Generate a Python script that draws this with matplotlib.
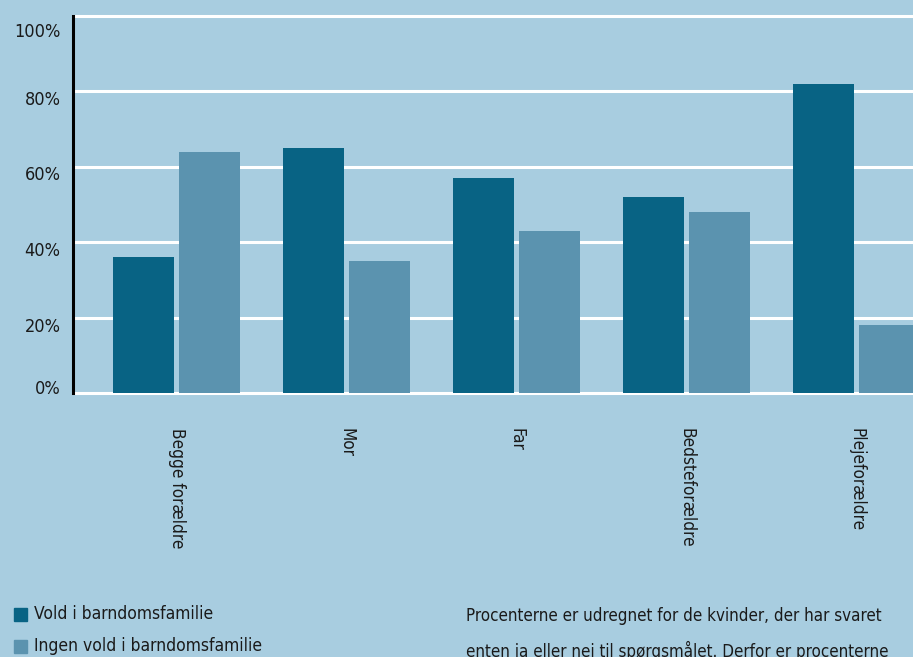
import matplotlib
matplotlib.use('Agg')
import matplotlib.pyplot as plt
import matplotlib.transforms as mtransforms
import numpy as np
from matplotlib.patches import Rectangle

plt.rcParams['font.family'] = ['DejaVu Sans']
plt.rcParams['font.stretch'] = 'condensed'

categories = ['Begge forældre', 'Mor', 'Far', 'Bedsteforældre', 'Plejeforældre']
vold = [36, 65, 57, 52, 82]
ingen_vold = [64, 35, 43, 48, 18]
yticks = [0, 20, 40, 60, 80, 100]
ytick_labels = ['0%', '20%', '40%', '60%', '80%', '100%']
legend_labels = ['Vold i barndomsfamilie', 'Ingen vold i barndomsfamilie']
note_lines = ['Procenterne er udregnet for de kvinder, der har svaret',
              'enten ja eller nej til spørgsmålet. Derfor er procenterne']

bg = '#a8cde0'
dark = '#086384'
light = '#5b93af'
txt = '#1a1a1a'

fig = plt.figure(figsize=(9.13, 6.57), dpi=100, facecolor=bg)
ax = fig.add_axes([73 / 913, 1 - 393 / 657, 1 - 73 / 913, (393 - 16) / 657])
ax.set_facecolor(bg)

x = np.arange(len(categories))
w = 61 / 170
off = 33 / 170
ax.bar(x - off, vold, width=w, color=dark, zorder=3)
ax.bar(x + off, ingen_vold, width=w, color=light, zorder=3)

ax.set_xlim(-0.609, 4.332)
ax.set_ylim(0, 100)
for v in yticks:
    ax.axhline(v, color='white', lw=2.2, zorder=1, clip_on=False)

for s in ['top', 'right', 'bottom']:
    ax.spines[s].set_visible(False)
ax.spines['left'].set_linewidth(2.2)
ax.spines['left'].set_color('black')
ax.spines['left'].set_zorder(4)

ax.set_yticks(yticks)
ax.set_yticklabels(ytick_labels, fontsize=13, color=txt)
ax.tick_params(axis='y', length=0, pad=9)
# labels in the original sit a little below their gridlines
shifts = [6, -7, -7, -6, -7, -14]
for lab, dy in zip(ax.get_yticklabels(), shifts):
    lab.set_transform(lab.get_transform() +
                      mtransforms.ScaledTranslation(0, dy / 100, fig.dpi_scale_trans))

ax.set_xticks(x)
ax.set_xticklabels(categories, rotation=270, fontsize=12.3, color=txt, va='top', ha='center')
ax.tick_params(axis='x', length=0, pad=25)

# legend
cols = [dark, light]
for i, (lab, c) in enumerate(zip(legend_labels, cols)):
    yc = 1 - (614 + 32 * i) / 657
    fig.patches.append(Rectangle((14 / 913, yc - 6.5 / 657), 13 / 913, 13 / 657,
                                 transform=fig.transFigure, color=c))
    fig.text(34 / 913, yc, lab, fontsize=12.5, va='center', ha='left', color=txt)

for i, line in enumerate(note_lines):
    fig.text(466 / 913, 1 - (616 + 35 * i) / 657, line, fontsize=12.2,
             va='center', ha='left', color=txt)

fig.savefig('out.png', dpi=100, facecolor=bg)
